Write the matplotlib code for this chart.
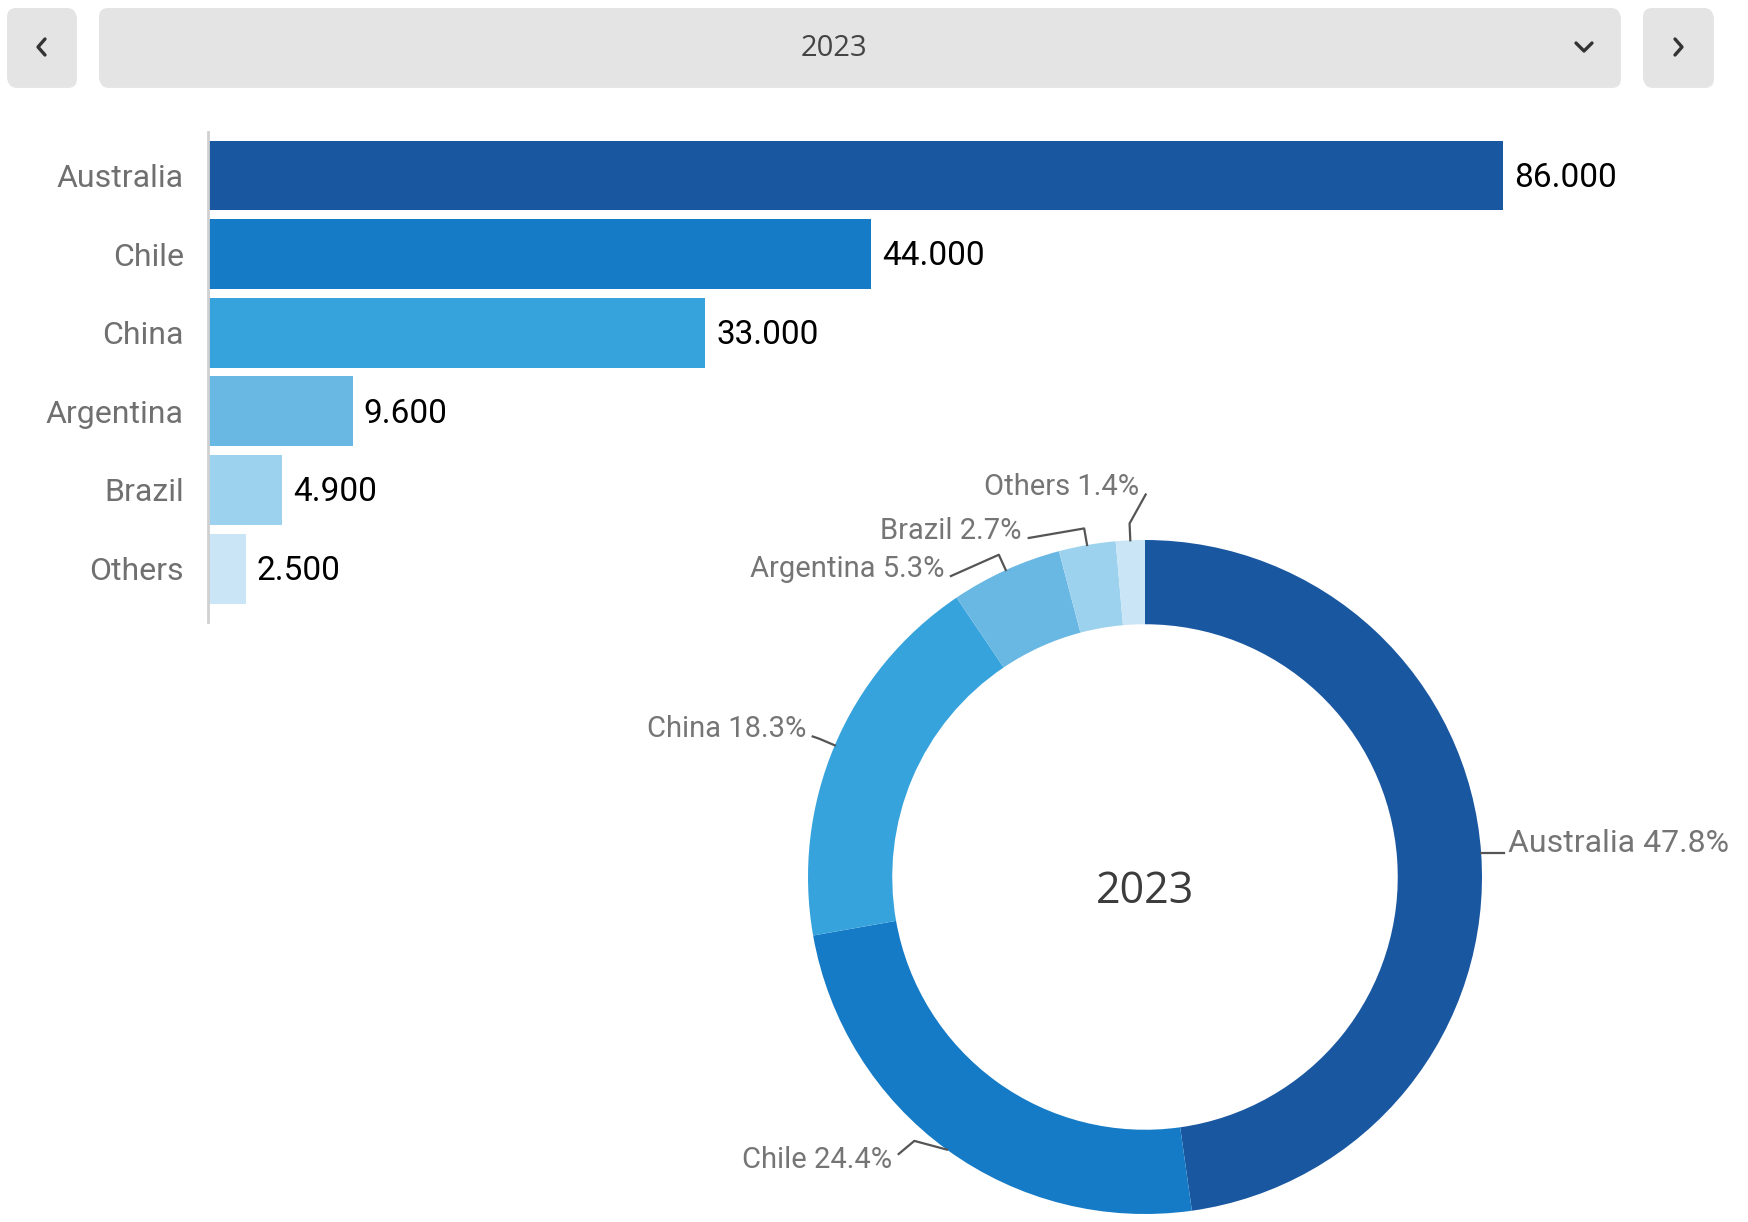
import matplotlib.pyplot as plt
import numpy as np
from matplotlib.patches import FancyBboxPatch

# data
countries = ['Australia', 'Chile', 'China', 'Argentina', 'Brazil', 'Others']
values = [86.0, 44.0, 33.0, 9.6, 4.9, 2.5]
value_labels = ['86.000', '44.000', '33.000', '9.600', '4.900', '2.500']
year = '2023'
colors = ['#1a57a1', '#157bc6', '#36a3dc', '#69b7e3', '#9dd2ee', '#cae5f5']

W, H = 1748, 1222
fig = plt.figure(figsize=(W / 100, H / 100), dpi=100)
fig.patch.set_facecolor('white')

# --- top selector bar (pixel overlay) ---
ov = fig.add_axes([0, 0, 1, 1])
ov.set_xlim(0, W)
ov.set_ylim(H, 0)
ov.axis('off')
ov.set_zorder(0)

def button(x0, x1, y0=8, y1=86):
    sh = FancyBboxPatch((x0 + 1, y0 + 2), x1 - x0, y1 - y0,
                        boxstyle='round,pad=0,rounding_size=9',
                        fc='#d6d6d6', ec='none', alpha=0.6)
    b = FancyBboxPatch((x0, y0), x1 - x0, y1 - y0,
                       boxstyle='round,pad=0,rounding_size=9',
                       fc='#e4e4e4', ec='none')
    ov.add_patch(sh)
    ov.add_patch(b)

button(7, 76)
button(99, 1620)
button(1643, 1713)
ov.plot([45, 38, 45], [39, 47, 55], color='#333333', lw=2.4, solid_capstyle='round')
ov.plot([1675, 1682, 1675], [39, 47, 55], color='#333333', lw=2.4, solid_capstyle='round')
ov.plot([1576, 1584, 1592], [43, 51, 43], color='#333333', lw=2.4, solid_capstyle='round')
ov.text(834, 49, year, ha='center', va='center', fontsize=21,
        color='#444444', family='Open Sans')

# --- horizontal bar chart ---
ax = fig.add_axes([208 / W, 1 - 622 / H, 1392 / W, (622 - 131.5) / H])
y = np.arange(len(countries))
ax.barh(y, values, height=0.89, color=colors)
ax.set_xlim(0, 1392 / 15.06)
ax.set_ylim(5.68, -0.56)
ax.set_yticks(y)
ax.set_yticklabels(countries, fontsize=23, color='#707070', family='Roboto')
ax.tick_params(axis='y', length=0, pad=17.5)
ax.set_xticks([])
for s in ['top', 'right', 'bottom']:
    ax.spines[s].set_visible(False)
ax.spines['left'].set_color('#d0d0d0')
ax.spines['left'].set_linewidth(2)
for yi, v, t in zip(y, values, value_labels):
    ax.text(v + 0.75, yi + 0.03, t, va='center', ha='left', fontsize=24,
            color='black', family='Roboto')

# --- donut chart ---
R = 337.0
cx, cy = 1145.0, 877.0
x0, y0 = 560.0, 440.0
dax = fig.add_axes([x0 / W, 0, (W - x0) / W, (H - y0) / H])
dax.axis('off')
wedges, _ = dax.pie(values, colors=colors, startangle=90, counterclock=False,
                    radius=1, wedgeprops=dict(width=0.25, linewidth=0))
dax.set_xlim((x0 - cx) / R, (W - cx) / R)
dax.set_ylim(-(H - cy) / R, (cy - y0) / R)
dax.set_aspect('auto')
dax.text(0, -0.045, year, ha='center', va='center', fontsize=31,
         color='#3c3c3c', family='Open Sans')

total = sum(values)
# label anchor positions (data units of the donut axes)
label_pos = [(1.077, 0.098), (-0.751, -0.840), (-1.006, 0.439),
             (-0.596, 0.915), (-0.365, 1.028), (-0.018, 1.157)]
label_size = [23, 21, 21, 21, 21, 21]
for w, name, v, (tx, ty), fs in zip(wedges, countries, values, label_pos, label_size):
    ang = np.deg2rad((w.theta1 + w.theta2) / 2)
    c, s = np.cos(ang), np.sin(ang)
    txt = f'{name} {100 * v / total:.1f}%'
    if tx > 0:
        xs = [c, 1.065]
        ys = [s, s]
        ha = 'left'
    elif ty < 0:
        xs = [c, 1.04 * np.cos(ang - 0.09), tx + 0.02]
        ys = [s, 1.04 * np.sin(ang - 0.09), ty + 0.018]
        ha = 'right'
    else:
        xs = [c, 1.05 * c, tx + 0.02]
        ys = [s, 1.05 * s, ty - 0.022]
        ha = 'right'
    dax.plot(xs, ys, color='#555555', lw=1.6, clip_on=False)
    dax.text(tx, ty, txt, ha=ha, va='center', fontsize=fs,
             color='#757575', family='Roboto', clip_on=False)

fig.savefig('out.png', dpi=100)
